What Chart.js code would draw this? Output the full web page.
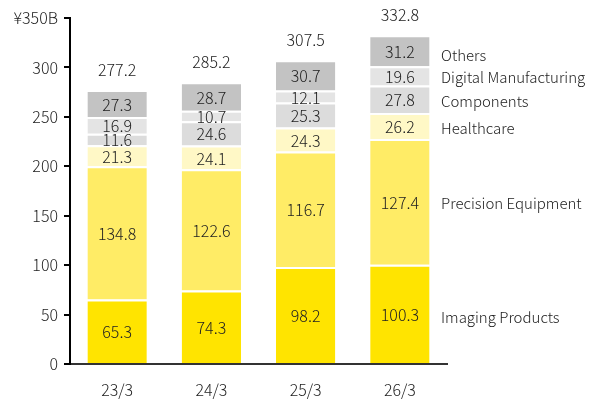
<!DOCTYPE html>
<html>
<head>
<meta charset="utf-8">
<script src="https://cdn.jsdelivr.net/npm/chart.js@4/dist/chart.umd.min.js"></script>
<style>
  html, body { margin: 0; padding: 0; background: #fff; }
  #wrap { width: 607px; height: 401px; }
</style>
</head>
<body>
<div id="wrap"><canvas id="c"></canvas></div>
<script>
// --- Data ---
const years = ['23/3', '24/3', '25/3', '26/3'];
const imaging = [65.3, 74.3, 98.2, 100.3];
const precision = [134.8, 122.6, 116.7, 127.4];
const healthcare = [21.3, 24.1, 24.3, 26.2];
const components = [11.6, 24.6, 25.3, 27.8];
const digital = [16.9, 10.7, 12.1, 19.6];
const others = [27.3, 28.7, 30.7, 31.2];
const totals = [277.2, 285.2, 307.5, 332.8];
const yTicks = [0, 50, 100, 150, 200, 250, 300, 350];

const FONT = '"Noto Sans CJK JP", "Noto Sans", sans-serif';
const TEXT = '#222';

const series = [
  { label: 'Imaging Products', data: imaging, color: '#FFE400' },
  { label: 'Precision Equipment', data: precision, color: '#FFEC66' },
  { label: 'Healthcare', data: healthcare, color: '#FFF8C6' },
  { label: 'Components', data: components, color: '#DCDCDC' },
  { label: 'Digital Manufacturing', data: digital, color: '#E4E4E4' },
  { label: 'Others', data: others, color: '#C3C3C3' }
];

// --- Labels plugin: values in segments, totals on top, names on the right ---
const labelsPlugin = {
  id: 'labels',
  afterDatasetsDraw(chart) {
    const ctx = chart.ctx;
    ctx.save();
    ctx.font = '300 16px ' + FONT;
    ctx.fillStyle = TEXT;
    ctx.textAlign = 'center';
    ctx.textBaseline = 'middle';
    chart.data.datasets.forEach((ds, i) => {
      chart.getDatasetMeta(i).data.forEach((bar, j) => {
        const mid = (bar.y + bar.base) / 2;
        ctx.fillText(ds.data[j].toFixed(1), bar.x, mid + 1);
      });
    });
    // totals
    const top = chart.getDatasetMeta(chart.data.datasets.length - 1).data;
    top.forEach((bar, j) => ctx.fillText(totals[j].toFixed(1), bar.x, bar.y - 20));
    // series names beside the last bar
    ctx.textAlign = 'left';
    ctx.font = '300 15px ' + FONT;
    const nameOffsets = [1, -1, 0, 0, -1, 3];
    chart.data.datasets.forEach((ds, i) => {
      const meta = chart.getDatasetMeta(i).data;
      const bar = meta[meta.length - 1];
      const mid = (bar.y + bar.base) / 2;
      ctx.fillText(ds.label, chart.chartArea.right - 6, mid + 2 + nameOffsets[i]);
    });
    ctx.restore();
  }
};

new Chart(document.getElementById('c'), {
  type: 'bar',
  data: {
    labels: years,
    datasets: series.map(s => ({
      label: s.label,
      data: s.data,
      backgroundColor: s.color,
      borderColor: '#fff',
      borderWidth: { top: 2, bottom: 0, left: 0, right: 0 },
      borderSkipped: false,
      barPercentage: 0.63,
      categoryPercentage: 1
    }))
  },
  options: {
    responsive: true,
    maintainAspectRatio: false,
    animation: false,
    layout: { padding: { top: 18, right: 160, left: 0, bottom: 0 } },
    plugins: { legend: { display: false }, tooltip: { enabled: false } },
    scales: {
      x: {
        stacked: true,
        grid: { display: false },
        border: { display: true, color: '#333', width: 2 },
        ticks: { color: TEXT, font: { family: FONT, size: 16, weight: 300 }, padding: 8 },
        afterFit: s => { s.height = 37; }
      },
      y: {
        stacked: true,
        min: 0,
        max: 350,
        afterBuildTicks: s => { s.ticks = yTicks.map(v => ({ value: v })); },
        grid: { drawOnChartArea: false, drawTicks: true, tickLength: 6, color: '#000', lineWidth: 2 },
        border: { display: true, color: '#000', width: 2 },
        ticks: {
          color: TEXT,
          font: { family: FONT, size: 16, weight: 300 },
          padding: 6,
          callback: v => v === 350 ? '¥350B' : v
        },
        afterFit: s => { s.width = 70; }
      }
    }
  },
  plugins: [labelsPlugin]
});
</script>
</body>
</html>
